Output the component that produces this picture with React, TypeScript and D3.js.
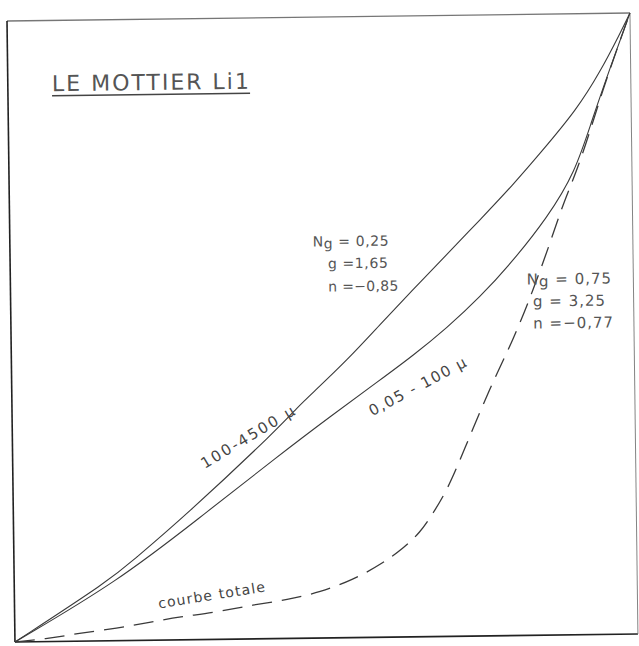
import React from "react";
import * as d3 from "d3";

// Cumulative curves, in percent of the square frame (x: 0..100 left→right, y: 0..100 bottom→top)
const curveCoarse: [number, number][] = [
  [0, 0], [15.4, 9.8], [19.1, 12.9], [27.2, 19.6], [43.0, 34.1], [45.7, 37.1],
  [48.3, 39.5], [53.9, 44.7], [59.2, 50.3], [64.6, 55.9], [70.1, 61.5], [75.5, 67.0],
  [80.9, 72.6], [85.3, 77.6], [91.3, 84.6], [95.1, 90.6], [98.4, 96.8], [100, 100],
];
const curveFine: [number, number][] = [
  [0, 0], [16.7, 9.6], [29.6, 19.4], [42.9, 29.6], [51.0, 35.6], [59.1, 41.4],
  [64.5, 45.3], [70.0, 49.7], [75.3, 54.5], [80.7, 60.3], [86.3, 67.2], [90.9, 74.5],
  [93.7, 82.9], [96.7, 91.2], [100, 100],
];
const curveTotal: [number, number][] = [
  [0, 0], [5.6, 0.5], [10.5, 1.3], [16.4, 2.0], [21.7, 2.9], [26.5, 3.7], [32.5, 4.4],
  [38.3, 5.5], [43.8, 6.2], [49.1, 7.4], [54.4, 9.3], [59.2, 11.9], [62.5, 14.3],
  [65.2, 16.7], [67.4, 19.9], [69.7, 23.6], [72.3, 29.5], [76.8, 40.1], [80.6, 47.6],
  [83.9, 55.6], [86.7, 63.1], [88.9, 69.5], [91.2, 74.8], [93.4, 81.2], [95.5, 87.7],
  [97.8, 94.1], [100, 100],
];

const titleText = "LE MOTTIER Li1";
const labelCoarse = "100-4500 µ";
const labelFine = "0,05 - 100 µ";
const labelTotal = "courbe totale";
const paramsLeft = ["0,25", "=1,65", "=−0,85"];
const paramsRight = ["0,75", "= 3,25", "=−0,77"];

const W = 639;
const H = 646;
const SIDE_W = 623;
const SIDE_H = 621;

export default function App() {
  const x = d3.scaleLinear().domain([0, 100]).range([0, SIDE_W]);
  const y = d3.scaleLinear().domain([0, 100]).range([SIDE_H, 0]);
  const line = d3
    .line<[number, number]>()
    .x((d) => x(d[0]))
    .y((d) => y(d[1]))
    .curve(d3.curveBasis);

  const ink = "#3a3a3a";
  const font = "DejaVu Sans, sans-serif";

  return (
    <svg
      width={W}
      height={H}
      viewBox={`0 0 ${W} ${H}`}
      style={{ position: "absolute", left: 0, top: 0, background: "#fff" }}
    >
      <rect x={0} y={0} width={W} height={H} fill="#fff" />
      <g transform="translate(7,21) rotate(-0.735)">
        {/* frame */}
        <line x1={0} y1={0} x2={SIDE_W} y2={0} stroke="#555" strokeWidth={1.3} opacity={0.8} />
        <line x1={0} y1={0} x2={0} y2={SIDE_H} stroke="#222" strokeWidth={1.6} />
        <line x1={0} y1={SIDE_H} x2={SIDE_W} y2={SIDE_H} stroke="#222" strokeWidth={1.6} />
        <line x1={SIDE_W} y1={0} x2={SIDE_W} y2={SIDE_H} stroke="#666" strokeWidth={1} opacity={0.8} />

        {/* curves */}
        <path d={line(curveCoarse) || ""} fill="none" stroke={ink} strokeWidth={1.1} />
        <path d={line(curveFine) || ""} fill="none" stroke={ink} strokeWidth={1.1} />
        <path
          d={line(curveTotal) || ""}
          fill="none"
          stroke={ink}
          strokeWidth={1.3}
          strokeDasharray="20,10"
        />
      </g>

      {/* title */}
      <g transform="rotate(-0.7 150 90)">
        <text x={52} y={90} fontFamily={font} fontSize={22} fill="#555" letterSpacing={2}>
          {titleText}
        </text>
        <line x1={52} y1={94.5} x2={250} y2={94.5} stroke="#444" strokeWidth={1.5} />
      </g>

      {/* parameter blocks */}
      <g fontFamily={font} fill="#555" transform="rotate(-0.7 360 270)">
        <text x={313} y={246} fontSize={14} letterSpacing={0.6}>
          N<tspan dy={2}>g</tspan>
          <tspan dy={-2}> = {paramsLeft[0]}</tspan>
        </text>
        <text x={328} y={268} fontSize={14} letterSpacing={0.6}>
          g {paramsLeft[1]}
        </text>
        <text x={328} y={291} fontSize={14} letterSpacing={0.3}>
          n {paramsLeft[2]}
        </text>
      </g>
      <g fontFamily={font} fill="#555" transform="rotate(-0.7 570 300)">
        <text x={527} y={284} fontSize={15} letterSpacing={1}>
          N<tspan dy={2}>g</tspan>
          <tspan dy={-2}> = {paramsRight[0]}</tspan>
        </text>
        <text x={533} y={306} fontSize={15} letterSpacing={1}>
          g {paramsRight[1]}
        </text>
        <text x={533} y={328} fontSize={15} letterSpacing={1}>
          n {paramsRight[2]}
        </text>
      </g>

      {/* curve labels */}
      <text
        transform="translate(248.5,436.5) rotate(-31)"
        textAnchor="middle"
        dy="0.35em"
        fontFamily={font}
        fontSize={15}
        letterSpacing={2.2}
        fill="#444"
      >
        {labelCoarse}
      </text>
      <text
        transform="translate(418,386) rotate(-28)"
        textAnchor="middle"
        dy="0.35em"
        fontFamily={font}
        fontSize={15}
        letterSpacing={1.5}
        fill="#444"
      >
        {labelFine}
      </text>
      <text
        transform="translate(212,595) rotate(-9)"
        textAnchor="middle"
        dy="0.35em"
        fontFamily={font}
        fontSize={14}
        letterSpacing={1.2}
        fill="#444"
      >
        {labelTotal}
      </text>
    </svg>
  );
}
